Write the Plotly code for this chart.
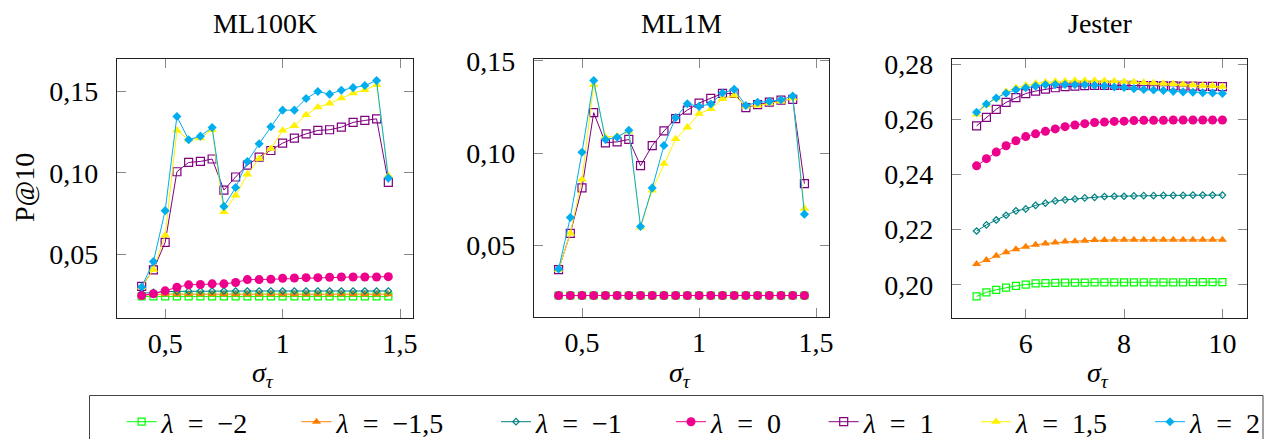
import plotly.graph_objects as go

W, H = 1265, 439

# ---------------- data ----------------
sigma_ml = [0.40, 0.45, 0.50, 0.55, 0.60, 0.65, 0.70, 0.75, 0.80, 0.85, 0.90,
            0.95, 1.00, 1.05, 1.10, 1.15, 1.20, 1.25, 1.30, 1.35, 1.40, 1.45]
sigma_jester = [5.0, 5.2, 5.4, 5.6, 5.8, 6.0, 6.2, 6.4, 6.6, 6.8, 7.0, 7.2, 7.4,
                7.6, 7.8, 8.0, 8.2, 8.4, 8.6, 8.8, 9.0, 9.2, 9.4, 9.6, 9.8, 10.0]

SP = "\u2002"
lambda_labels = [f"<i>λ</i>{SP}={SP}−2", f"<i>λ</i>{SP}={SP}−1,5", f"<i>λ</i>{SP}={SP}−1", f"<i>λ</i>{SP}={SP}0",
                 f"<i>λ</i>{SP}={SP}1", f"<i>λ</i>{SP}={SP}1,5", f"<i>λ</i>{SP}={SP}2"]

# ML100K
ml100k_m2 = [0.0243, 0.0243, 0.0243, 0.0243, 0.0243, 0.0243, 0.0243, 0.0243, 0.0243, 0.0243, 0.0243,
             0.0243, 0.0243, 0.0243, 0.0243, 0.0243, 0.0243, 0.0243, 0.0243, 0.0243, 0.0243, 0.0243]
ml100k_m15 = [0.0252, 0.0256, 0.0257, 0.0257, 0.0257, 0.0257, 0.0257, 0.0257, 0.0257, 0.0257, 0.0257,
              0.0257, 0.0257, 0.0257, 0.0257, 0.0257, 0.0257, 0.0257, 0.0257, 0.0257, 0.0257, 0.0257]
ml100k_m1 = [0.0262, 0.0268, 0.0272, 0.0274, 0.0275, 0.0276, 0.0276, 0.0276, 0.0276, 0.0276, 0.0276,
             0.0276, 0.0276, 0.0276, 0.0276, 0.0276, 0.0276, 0.0276, 0.0276, 0.0276, 0.0276, 0.0276]
ml100k_0 = [0.0248, 0.0259, 0.0277, 0.0299, 0.0314, 0.0316, 0.0320, 0.0320, 0.0328, 0.0346, 0.0346,
            0.0348, 0.0354, 0.0356, 0.0358, 0.0358, 0.0360, 0.0362, 0.0362, 0.0362, 0.0362, 0.0364]
ml100k_1 = [0.0305, 0.0405, 0.0574, 0.1006, 0.1063, 0.1069, 0.1084, 0.0894, 0.0974, 0.1047, 0.1096,
            0.1136, 0.1181, 0.1212, 0.1238, 0.1259, 0.1263, 0.1279, 0.1308, 0.1320, 0.1330, 0.0941]
ml100k_15 = [0.0300, 0.0407, 0.0617, 0.1259, 0.1202, 0.1212, 0.1263, 0.0760, 0.0861, 0.0990, 0.1086,
             0.1147, 0.1259, 0.1287, 0.1354, 0.1401, 0.1424, 0.1456, 0.1487, 0.1507, 0.1538, 0.0982]
ml100k_2 = [0.0301, 0.0456, 0.0768, 0.1344, 0.1202, 0.1224, 0.1277, 0.0794, 0.0910, 0.1069, 0.1177,
            0.1281, 0.1383, 0.1383, 0.1454, 0.1497, 0.1481, 0.1505, 0.1521, 0.1534, 0.1564, 0.0967]

# ML1M
ml1m_m2 = [0.0230, 0.0230, 0.0230, 0.0230, 0.0230, 0.0230, 0.0230, 0.0230, 0.0230, 0.0230, 0.0230,
           0.0230, 0.0230, 0.0230, 0.0230, 0.0230, 0.0230, 0.0230, 0.0230, 0.0230, 0.0230, 0.0230]
ml1m_m15 = [0.0230, 0.0230, 0.0230, 0.0230, 0.0230, 0.0230, 0.0230, 0.0230, 0.0230, 0.0230, 0.0230,
            0.0230, 0.0230, 0.0230, 0.0230, 0.0230, 0.0230, 0.0230, 0.0230, 0.0230, 0.0230, 0.0230]
ml1m_m1 = [0.0230, 0.0230, 0.0230, 0.0230, 0.0230, 0.0230, 0.0230, 0.0230, 0.0230, 0.0230, 0.0230,
           0.0230, 0.0230, 0.0230, 0.0230, 0.0230, 0.0230, 0.0230, 0.0230, 0.0230, 0.0230, 0.0230]
ml1m_0 = [0.0230, 0.0230, 0.0230, 0.0230, 0.0230, 0.0230, 0.0230, 0.0230, 0.0230, 0.0230, 0.0230,
          0.0230, 0.0230, 0.0230, 0.0230, 0.0230, 0.0230, 0.0230, 0.0230, 0.0230, 0.0230, 0.0230]
ml1m_1 = [0.0370, 0.0566, 0.0812, 0.1219, 0.1056, 0.1061, 0.1074, 0.0932, 0.1041, 0.1120, 0.1187,
          0.1233, 0.1271, 0.1296, 0.1323, 0.1323, 0.1246, 0.1262, 0.1276, 0.1287, 0.1291, 0.0835]
ml1m_15 = [0.0370, 0.0566, 0.0858, 0.1370, 0.1088, 0.1092, 0.1118, 0.0598, 0.0799, 0.0943, 0.1077,
           0.1140, 0.1214, 0.1239, 0.1294, 0.1312, 0.1253, 0.1258, 0.1271, 0.1280, 0.1298, 0.0700]
ml1m_2 = [0.0373, 0.0652, 0.1005, 0.1393, 0.1074, 0.1086, 0.1124, 0.0603, 0.0812, 0.1041, 0.1192,
          0.1267, 0.1253, 0.1266, 0.1325, 0.1345, 0.1258, 0.1275, 0.1280, 0.1289, 0.1309, 0.0670]

# Jester
jester_m2 = [0.1958, 0.1973, 0.1982, 0.1990, 0.1996, 0.2001, 0.2005, 0.2006, 0.2007, 0.2008, 0.2008, 0.2008, 0.2009,
             0.2009, 0.2009, 0.2009, 0.2009, 0.2009, 0.2009, 0.2009, 0.2009, 0.2009, 0.2010, 0.2010, 0.2010, 0.2010]
jester_m15 = [0.2075, 0.2090, 0.2105, 0.2118, 0.2129, 0.2138, 0.2145, 0.2150, 0.2153, 0.2157, 0.2158, 0.2160, 0.2162,
              0.2162, 0.2163, 0.2163, 0.2163, 0.2163, 0.2163, 0.2163, 0.2163, 0.2163, 0.2163, 0.2163, 0.2163, 0.2163]
jester_m1 = [0.2195, 0.2217, 0.2235, 0.2252, 0.2268, 0.2275, 0.2288, 0.2296, 0.2304, 0.2308, 0.2311, 0.2315, 0.2317,
             0.2320, 0.2321, 0.2321, 0.2322, 0.2323, 0.2323, 0.2324, 0.2324, 0.2324, 0.2325, 0.2325, 0.2325, 0.2325]
jester_0 = [0.2431, 0.2457, 0.2481, 0.2504, 0.2522, 0.2537, 0.2547, 0.2556, 0.2565, 0.2573, 0.2579, 0.2584, 0.2588,
            0.2590, 0.2592, 0.2593, 0.2595, 0.2596, 0.2596, 0.2596, 0.2597, 0.2597, 0.2597, 0.2597, 0.2597, 0.2597]
jester_1 = [0.2576, 0.2607, 0.2636, 0.2661, 0.2678, 0.2693, 0.2702, 0.2709, 0.2714, 0.2718, 0.2720, 0.2722, 0.2723,
            0.2723, 0.2723, 0.2723, 0.2723, 0.2722, 0.2722, 0.2721, 0.2721, 0.2720, 0.2720, 0.2719, 0.2719, 0.2718]
jester_15 = [0.2618, 0.2652, 0.2676, 0.2700, 0.2714, 0.2723, 0.2730, 0.2734, 0.2737, 0.2738, 0.2740, 0.2740, 0.2740,
             0.2739, 0.2738, 0.2736, 0.2735, 0.2733, 0.2731, 0.2729, 0.2728, 0.2726, 0.2724, 0.2722, 0.2721, 0.2718]
jester_2 = [0.2625, 0.2655, 0.2677, 0.2694, 0.2707, 0.2714, 0.2720, 0.2725, 0.2726, 0.2726, 0.2725, 0.2725, 0.2723,
            0.2721, 0.2717, 0.2715, 0.2711, 0.2708, 0.2706, 0.2704, 0.2701, 0.2699, 0.2698, 0.2696, 0.2695, 0.2693]

panel_titles = ["ML100K", "ML1M", "Jester"]
ml_xticks = [0.5, 1.0, 1.5]
ml_yticks = [0.05, 0.10, 0.15]
jester_xticks = [6, 8, 10]
jester_yticks = [0.20, 0.22, 0.24, 0.26, 0.28]

panels = [
    (sigma_ml, [ml100k_m2, ml100k_m15, ml100k_m1, ml100k_0, ml100k_1, ml100k_15, ml100k_2], ml_xticks, ml_yticks),
    (sigma_ml, [ml1m_m2, ml1m_m15, ml1m_m1, ml1m_0, ml1m_1, ml1m_15, ml1m_2], ml_xticks, ml_yticks),
    (sigma_jester, [jester_m2, jester_m15, jester_m1, jester_0, jester_1, jester_15, jester_2], jester_xticks, jester_yticks),
]

# ---------------- styles ----------------
colors = ["#00FF00", "#FF8000", "#008080", "#EC008C", "#800080", "#FFF200", "#00AEEF"]
symbols = ["square-open", "triangle-up", "diamond-open", "circle", "square-open", "triangle-up", "diamond"]
sizes = [7, 8, 5, 9, 8, 8.5, 7]
FONT = "Liberation Serif"
FS = 28

# panel boxes in pixels (left, right, top, bottom)
boxes = [(117, 413, 59, 318), (534, 829, 59, 317), (952, 1247, 59, 318)]

def px(x):
    return x / W

def py(y):
    return 1 - y / H

fig = go.Figure()

legend_text_x = [159.6, 334.5, 534, 709, 861.7, 1014, 1188]

for pi, (xs, series, xt, yt) in enumerate(panels):
    ax = "" if pi == 0 else str(pi + 1)
    for si, ys in enumerate(series):
        fig.add_trace(go.Scatter(
            x=xs, y=ys, mode="lines+markers",
            name=lambda_labels[si],
            legend="legend" if si == 0 else f"legend{si+1}",
            showlegend=(pi == 0),
            line=dict(color=colors[si], width=1),
            marker=dict(symbol=symbols[si], size=sizes[si], color=colors[si],
                        line=dict(color=colors[si], width=1.2 if "open" in symbols[si] else 0)),
            xaxis="x" + ax, yaxis="y" + ax,
        ))
    # axis ranges: pgfplots-style 10% enlargement
    allv = [v for s in series for v in s]
    lo, hi = min(allv), max(allv)
    pad = 0.1 * (hi - lo)
    xlo, xhi = min(xs), max(xs)
    xpad = 0.1 * (xhi - xlo)
    l, r, t, b = boxes[pi]
    axis_common = dict(showline=True, linecolor="#222", linewidth=1.3, mirror="ticks",
                       ticks="inside", ticklen=9, tickwidth=1, tickcolor="#888",
                       showgrid=False, zeroline=False, automargin=False,
                       tickfont=dict(family=FONT, size=FS, color="black"))
    fig.layout["xaxis" + ax] = dict(axis_common, domain=[px(l), px(r)],
                                    range=[xlo - xpad, xhi + xpad], tickvals=xt,
                                    anchor="y" + ax, ticklabelstandoff=0)
    fig.layout["yaxis" + ax] = dict(axis_common, domain=[py(b), py(t)],
                                    range=[lo - pad, hi + pad], tickvals=yt, tickformat=".2f",
                                    anchor="x" + ax, ticklabelstandoff=12)
    cx = (l + r) / 2
    fig.add_annotation(text=panel_titles[pi], x=px(cx), y=py(24), xref="paper", yref="paper",
                       showarrow=False, font=dict(family=FONT, size=FS, color="black"),
                       xanchor="center", yanchor="middle")
    fig.add_annotation(text="<i>σ</i><sub><i>τ</i></sub>", x=px(cx - 2), y=py(374), xref="paper", yref="paper",
                       showarrow=False, font=dict(family=FONT, size=FS, color="black"),
                       xanchor="center", yanchor="middle")

fig.add_annotation(text="P@10", x=px(24), y=py(188), xref="paper", yref="paper", textangle=-90,
                   showarrow=False, font=dict(family=FONT, size=FS, color="black"),
                   xanchor="center", yanchor="middle")

# legends: one per entry, placed in a row
for i in range(7):
    key = "legend" if i == 0 else f"legend{i+1}"
    fig.layout[key] = dict(x=px(legend_text_x[i] - 38), y=py(422), xanchor="left", yanchor="middle",
                           orientation="h", bgcolor="rgba(0,0,0,0)", borderwidth=0,
                           font=dict(family=FONT, size=FS, color="black"), itemsizing="trace")

fig.add_shape(type="rect", xref="paper", yref="paper", x0=px(89.5), x1=px(1263), y0=-0.05, y1=py(395.5),
              line=dict(color="#444", width=1), fillcolor="rgba(0,0,0,0)")

fig.update_layout(width=W, height=H, margin=dict(l=0, r=0, t=0, b=0, autoexpand=False),
                  plot_bgcolor="white", paper_bgcolor="white", separators=",.",
                  font=dict(family=FONT, size=FS, color="black"))

fig.write_html("out.html", config={"displayModeBar": False},
               post_script="document.body.style.margin='0';")
